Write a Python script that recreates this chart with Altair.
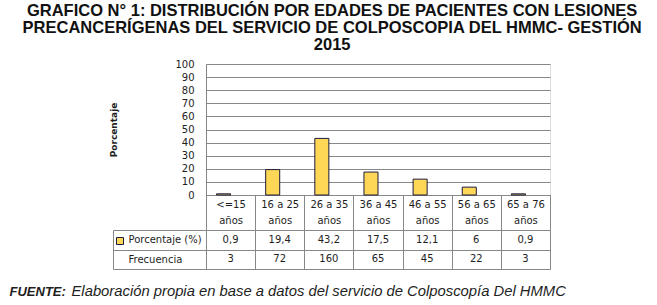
import altair as alt
import pandas as pd

# ---------------- data ----------------
categorias = ["<=15 años", "16 a 25 años", "26 a 35 años", "36 a 45 años",
              "46 a 55 años", "56 a 65 años", "65 a 76 años"]
porcentaje = [0.9, 19.4, 43.2, 17.5, 12.1, 6, 0.9]
frecuencia = [3, 72, 160, 65, 45, 22, 3]
filas = ["Porcentaje (%)", "Frecuencia"]
y_ticks = [0, 10, 20, 30, 40, 50, 60, 70, 80, 90, 100]

titulo = ["GRAFICO N° 1: DISTRIBUCIÓN POR EDADES DE PACIENTES CON LESIONES",
          "PRECANCERÍGENAS DEL SERVICIO DE COLPOSCOPIA  DEL HMMC- GESTIÓN",
          "2015"]
fuente_tag = "FUENTE:"
fuente_texto = "Elaboración propia en base a datos del servicio de Colposcopía Del HMMC"


def fmt(v):
    return f"{v:g}".replace(".", ",")


bars_df = pd.DataFrame({"edad": categorias, "pct": porcentaje, "serie": filas[0]})
table_df = pd.DataFrame(
    [{"edad": c, "fila": filas[0], "txt": fmt(p)} for c, p in zip(categorias, porcentaje)]
    + [{"edad": c, "fila": filas[1], "txt": fmt(f)} for c, f in zip(categorias, frecuencia)]
)

# ---------------- style ----------------
GRAY = "#878787"
TXT = "#1e1e1e"
FONT = "DejaVu Sans"
TFONT = "Liberation Sans"
W = 344

xscale = alt.Scale(domain=categorias, paddingInner=0, paddingOuter=0)

bars = alt.Chart(bars_df).mark_bar(stroke="#1C1C3C", strokeWidth=1).encode(
    x=alt.X("edad:N", scale=xscale, sort=categorias,
            axis=alt.Axis(title=None, orient="bottom", labelAngle=0,
                          labelExpr="datum.extra ? '' : [replace(datum.label, ' años', ''), 'años']",
                          labelBaseline="top", labelPadding=-31, labelLineHeight=16,
                          labelFont=FONT, labelFontSize=10, labelColor=TXT,
                          labelOverlap=False, tickBand="extent", tickSize=35,
                          tickColor=GRAY, domainColor=GRAY, grid=False)),
    xOffset=alt.XOffset("serie:N", scale=alt.Scale(domain=filas, paddingInner=0, paddingOuter=0.75)),
    y=alt.Y("pct:Q", scale=alt.Scale(domain=[0, 100], nice=False),
            axis=alt.Axis(values=y_ticks, title="Porcentaje", titleFont=FONT,
                          titleFontSize=9, titleFontWeight="bold", titlePadding=56,
                          titleColor=TXT, labelFont=FONT, labelFontSize=10,
                          labelPadding=12, labelColor=TXT, ticks=False, grid=True,
                          gridColor=GRAY, domain=True, domainColor=GRAY)),
    color=alt.Color("serie:N", scale=alt.Scale(domain=[filas[0]], range=["#FFD757"]),
                    legend=alt.Legend(orient="none", legendX=-91, legendY=172, title=None,
                                      symbolType="square", symbolSize=49,
                                      symbolStrokeColor="#1C1C3C", symbolStrokeWidth=1,
                                      labelExpr="''", padding=0)),
).properties(width=W, height=131)

ytab_scale = alt.Scale(domain=filas, paddingInner=0, paddingOuter=0)

text_layer = alt.Chart(table_df).mark_text(font=FONT, fontSize=10, color=TXT).encode(
    x=alt.X("edad:N", scale=xscale, sort=categorias,
            axis=alt.Axis(title=fuente_texto, labels=False, ticks=False, domain=False,
                          grid=True, gridColor=GRAY, tickBand="extent",
                          titleFont=TFONT, titleFontSize=14.8, titleFontStyle="italic",
                          titleFontWeight="normal", titleAnchor="start", titleAlign="left",
                          titleX=-135, titleY=26, titleBaseline="alphabetic",
                          titleColor=TXT)),
    y=alt.Y("fila:N", scale=ytab_scale, sort=filas,
            axis=alt.Axis(orient="left", title=fuente_tag, titleAngle=0, titleX=-197,
                          titleY=65, titleAlign="left", titleBaseline="alphabetic",
                          titleFont=TFONT, titleFontSize=13, titleFontStyle="italic",
                          titleFontWeight="bold", titleColor=TXT,
                          labelAlign="left", labelPadding=-15, labelFont=FONT,
                          labelFontSize=10, labelColor=TXT, ticks=True, tickSize=93,
                          tickBand="extent", tickColor=GRAY, grid=True, gridColor=GRAY,
                          domain=True, domainColor=GRAY)),
    text="txt:N",
)

border_layer = alt.Chart(table_df).mark_text(opacity=0).encode(
    y=alt.Y("fila:N", scale=ytab_scale, sort=filas,
            axis=alt.Axis(orient="left", offset=93, domain=True, domainColor=GRAY,
                          labels=False, ticks=False, grid=False, title=None)),
    text="txt:N",
)

table = alt.layer(text_layer, border_layer).resolve_axis(y="independent").properties(
    width=W, height=39)

chart = alt.vconcat(bars, table, spacing=35, bounds="flush").properties(
    title=alt.TitleParams(text=titulo, font=TFONT, fontSize=16.5, fontWeight="bold",
                          color="#111", anchor="middle", dx=45, lineHeight=17, offset=5),
    padding={"left": 8, "top": 3, "right": 5, "bottom": 5},
).configure_view(stroke=None).configure(background="white")

chart.save("out.html", embed_options={"renderer": "svg", "actions": False})
